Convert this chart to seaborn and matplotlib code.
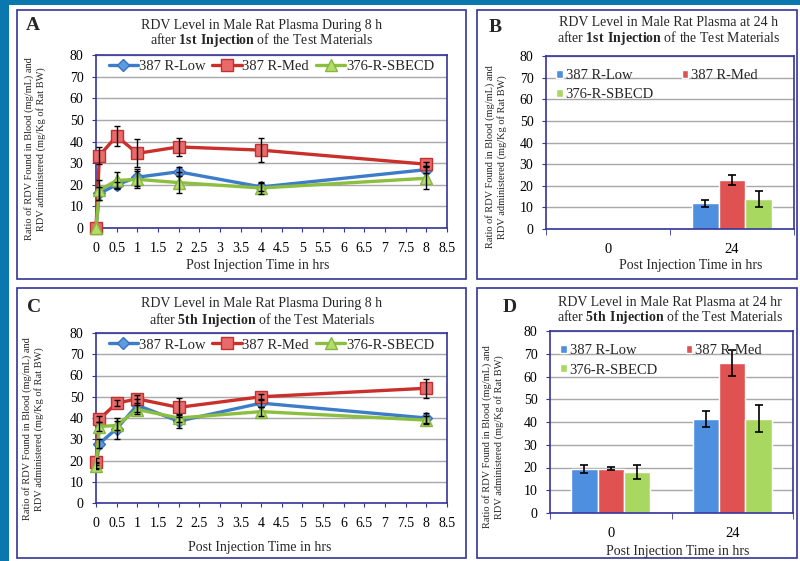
import numpy as np
import pandas as pd
import matplotlib
matplotlib.use("Agg")
import matplotlib.pyplot as plt
import seaborn as sns
from matplotlib.patches import Rectangle

# ---- data ----
series_names = ["387 R-Low", "387 R-Med", "376-R-SBECD"]
times = [0, 0.083, 0.5, 1, 2, 4, 8]
x_ticks = [0, 0.5, 1, 1.5, 2, 2.5, 3, 3.5, 4, 4.5, 5, 5.5, 6, 6.5, 7, 7.5, 8, 8.5]
y_ticks = [0, 10, 20, 30, 40, 50, 60, 70, 80]

# panel A: during 8 h after 1st injection
a_low = [0, 16, 20, 23.5, 26, 19, 27]
a_low_err = [0, 3, 1.5, 4, 2, 2, 1.5]
a_med = [0, 33.5, 42.5, 34.5, 37.5, 36, 29.5]
a_med_err = [0, 4, 4.5, 6.5, 4, 5.5, 1]
a_sbecd = [0, 17.5, 22, 22.5, 21, 18.5, 23]
a_sbecd_err = [0, 4.5, 4, 4, 5, 3, 5]

# panel C: during 8 h after 5th injection
c_low = [18, 28, 35, 46, 38.5, 47, 40]
c_low_err = [1.5, 2, 5, 3, 3, 2, 2.5]
c_med = [19.5, 39.5, 47, 49, 45, 50, 54]
c_med_err = [1.5, 1.5, 1.5, 2, 4.5, 1.5, 4.5]
c_sbecd = [17.5, 36, 36.5, 44, 40, 43, 39]
c_sbecd_err = [1.5, 2, 2, 2, 2, 2, 2]

# panels B and D: bars at 0 h and 24 h
bar_cats = ["0", "24"]
b_low = [np.nan, 12]
b_low_err = [np.nan, 1.6]
b_med = [np.nan, 22.5]
b_med_err = [np.nan, 2.3]
b_sbecd = [np.nan, 14]
b_sbecd_err = [np.nan, 3.7]

d_low = [19.5, 41.5]
d_low_err = [1.8, 3.5]
d_med = [19.5, 66]
d_med_err = [0.8, 5.6]
d_sbecd = [18, 41.5]
d_sbecd_err = [3, 6]

# ---- styling ----
line_colors = ["#3d7cc9", "#c9302c", "#8cbf3f"]
marker_styles = ["D", "s", "^"]
marker_sizes = [6, 9, 8.5]
marker_faces = ["#5c9be0", "#e86a6a", "#b3dc6a"]
marker_edges = ["#3a70c0", "#c43030", "#86b840"]
bar_colors = ["#4f8fe0", "#e05252", "#a9d861"]
navy = "#34349a"
grid_col = "#a8a8a8"

sns.set_style("white")
plt.rcParams["font.family"] = ["Liberation Serif", "DejaVu Serif"]
plt.rcParams["mathtext.fontset"] = "custom"
plt.rcParams["mathtext.rm"] = "Liberation Serif"
plt.rcParams["mathtext.bf"] = "Liberation Serif:bold"

W, H = 800, 561
fig = plt.figure(figsize=(W / 100, H / 100), dpi=100)
fig.patch.set_facecolor("white")


def fx(x):
    return x / W


def fy(y):
    return 1 - y / H


def add_axes_px(x0, y0, x1, y1):
    return fig.add_axes([fx(x0), fy(y1), (x1 - x0) / W, (y1 - y0) / H])


# blue strips at top and left, then panel boxes (behind the axes)
fig.patches.append(Rectangle((0, 0), fx(9), 1, transform=fig.transFigure,
                             facecolor="#0a78ae", edgecolor="none", zorder=-2))
fig.patches.append(Rectangle((0, fy(5)), 1, 5 / H, transform=fig.transFigure,
                             facecolor="#0a78ae", edgecolor="none", zorder=-2))
for (x0, y0, x1, y1) in [(17, 10, 466, 279), (477, 10, 797, 279),
                         (17, 288, 466, 558), (477, 288, 797, 558)]:
    fig.patches.append(Rectangle((fx(x0), fy(y1)), (x1 - x0) / W, (y1 - y0) / H,
                                 transform=fig.transFigure, facecolor="white",
                                 edgecolor=navy, lw=1.2, zorder=-1))


def style_axes(ax):
    for sp in ax.spines.values():
        sp.set_color(navy)
        sp.set_linewidth(1.2)
    ax.set_ylim(0, 80)
    ax.set_yticks(y_ticks)
    ax.yaxis.grid(True, color=grid_col, lw=1)
    ax.set_axisbelow(True)
    ax.tick_params(axis="both", labelsize=10, colors="black")
    ax.tick_params(axis="y", left=True, length=3, color=navy, pad=6)
    ax.set_xlabel("")
    ax.set_ylabel("")


def line_panel(ax, vals_list, errs_list):
    for i, (name, vals) in enumerate(zip(series_names, vals_list)):
        df = pd.DataFrame({"time": times, "value": vals})
        sns.lineplot(data=df, x="time", y="value", ax=ax, color=line_colors[i],
                     lw=2.4, marker=marker_styles[i], markersize=marker_sizes[i],
                     markerfacecolor=marker_faces[i], markeredgecolor=marker_edges[i],
                     markeredgewidth=1, label=name, clip_on=False, zorder=3 + i)
    for i, (vals, errs) in enumerate(zip(vals_list, errs_list)):
        t = [tt for tt, e in zip(times, errs) if e > 0]
        v = [vv for vv, e in zip(vals, errs) if e > 0]
        e = [ee for ee in errs if ee > 0]
        ax.errorbar(t, v, yerr=e, fmt="none", ecolor="black", elinewidth=1,
                    capsize=2.5, capthick=1, zorder=7)
    style_axes(ax)
    ax.set_xlim(0, 8.5)
    ax.set_xticks(x_ticks)
    ax.set_xticklabels([f"{t:g}" for t in x_ticks])
    ax.tick_params(axis="x", bottom=True, length=3, color=navy, pad=7)
    ax.legend(loc="upper center", bbox_to_anchor=(0.5, 1.02), ncol=3, frameon=False,
              handlelength=2.0, handletextpad=0.05, columnspacing=0.5,
              fontsize=10.5, borderaxespad=0.2)


def bar_panel(ax, vals_list, errs_list):
    width = 0.65
    df = pd.DataFrame({
        "time": bar_cats * 3,
        "series": np.repeat(series_names, len(bar_cats)),
        "value": np.concatenate(vals_list),
    })
    sns.barplot(data=df, x="time", y="value", hue="series", order=bar_cats,
                hue_order=series_names, palette=bar_colors, width=width,
                saturation=1, errorbar=None, ax=ax, zorder=2)
    for i, (vals, errs) in enumerate(zip(vals_list, errs_list)):
        xs = np.arange(len(bar_cats)) + (i - 1) * width / 3
        ok = ~np.isnan(np.array(vals, dtype=float))
        ax.errorbar(xs[ok], np.array(vals)[ok], yerr=np.array(errs)[ok], fmt="none",
                    ecolor="black", elinewidth=1.2, capsize=3, capthick=1.2, zorder=5)
    style_axes(ax)
    ax.set_xlim(-0.5, 1.5)
    ax.set_xticks([0, 1])
    ax.set_xticklabels(bar_cats)
    ax.set_xticks([-0.5, 0.5, 1.5], minor=True)
    ax.tick_params(axis="x", which="major", bottom=False, length=0, pad=10, labelsize=10.5)
    ax.tick_params(axis="x", which="minor", bottom=True, length=4, color=navy)
    handles, labels = ax.get_legend_handles_labels()
    order = [0, 2, 1]
    ax.legend([handles[k] for k in order], [labels[k] for k in order],
              loc="upper left", bbox_to_anchor=(0.0, 0.985), ncol=2, frameon=False,
              handlelength=0.45, handleheight=0.45, handletextpad=0.2,
              columnspacing=1.9, labelspacing=0.45, fontsize=10.5, borderaxespad=0.3)


axA = add_axes_px(96, 55, 447, 228)
line_panel(axA, [a_low, a_med, a_sbecd], [a_low_err, a_med_err, a_sbecd_err])
axB = add_axes_px(546, 56, 794, 229)
bar_panel(axB, [b_low, b_med, b_sbecd], [b_low_err, b_med_err, b_sbecd_err])
axC = add_axes_px(96, 333, 447, 503)
line_panel(axC, [c_low, c_med, c_sbecd], [c_low_err, c_med_err, c_sbecd_err])
axD = add_axes_px(550, 331, 793, 513)
bar_panel(axD, [d_low, d_med, d_sbecd], [d_low_err, d_med_err, d_sbecd_err])

# panel letters, titles and axis labels placed like the original figure
ylab = "Ratio of RDV Found in Blood (mg/mL) and\nRDV administered (mg/Kg of Rat BW)"
xlab = "Post Injection Time in hrs"
panels = [
    ("A", (33, 26), 262, (26, 40), "RDV Level in Male Rat Plasma During 8 h", "1st",
     (35, 149), (258, 266)),
    ("B", (495, 27), 669, (23, 38), "RDV Level in Male Rat Plasma at 24 h", "1st",
     (496, 157), (691, 265)),
    ("C", (34, 307), 262, (304, 320), "RDV Level in Male Rat Plasma During 8 h", "5th",
     (33, 429), (260, 548)),
    ("D", (510, 307), 670, (302, 317), "RDV Level in Male Rat Plasma at 24 hr", "5th",
     (493, 437), (678, 551)),
]
for letter, lpos, tx, (ty1, ty2), line1, inj, ypos, xpos in panels:
    fig.text(fx(lpos[0]), fy(lpos[1]), letter, fontsize=14, fontweight="bold",
             ha="center", va="center")
    fig.text(fx(tx), fy(ty1), line1, fontsize=10, ha="center", va="center")
    fig.text(fx(tx), fy(ty2), r"after $\mathbf{" + inj + r"\ Injection}$ of the Test Materials",
             fontsize=10, ha="center", va="center")
    fig.text(fx(ypos[0]), fy(ypos[1]), ylab, fontsize=7.5, rotation=90,
             ha="center", va="center", linespacing=1.2)
    fig.text(fx(xpos[0]), fy(xpos[1]), xlab, fontsize=10, ha="center", va="center")

fig.savefig("out.png", dpi=100)
